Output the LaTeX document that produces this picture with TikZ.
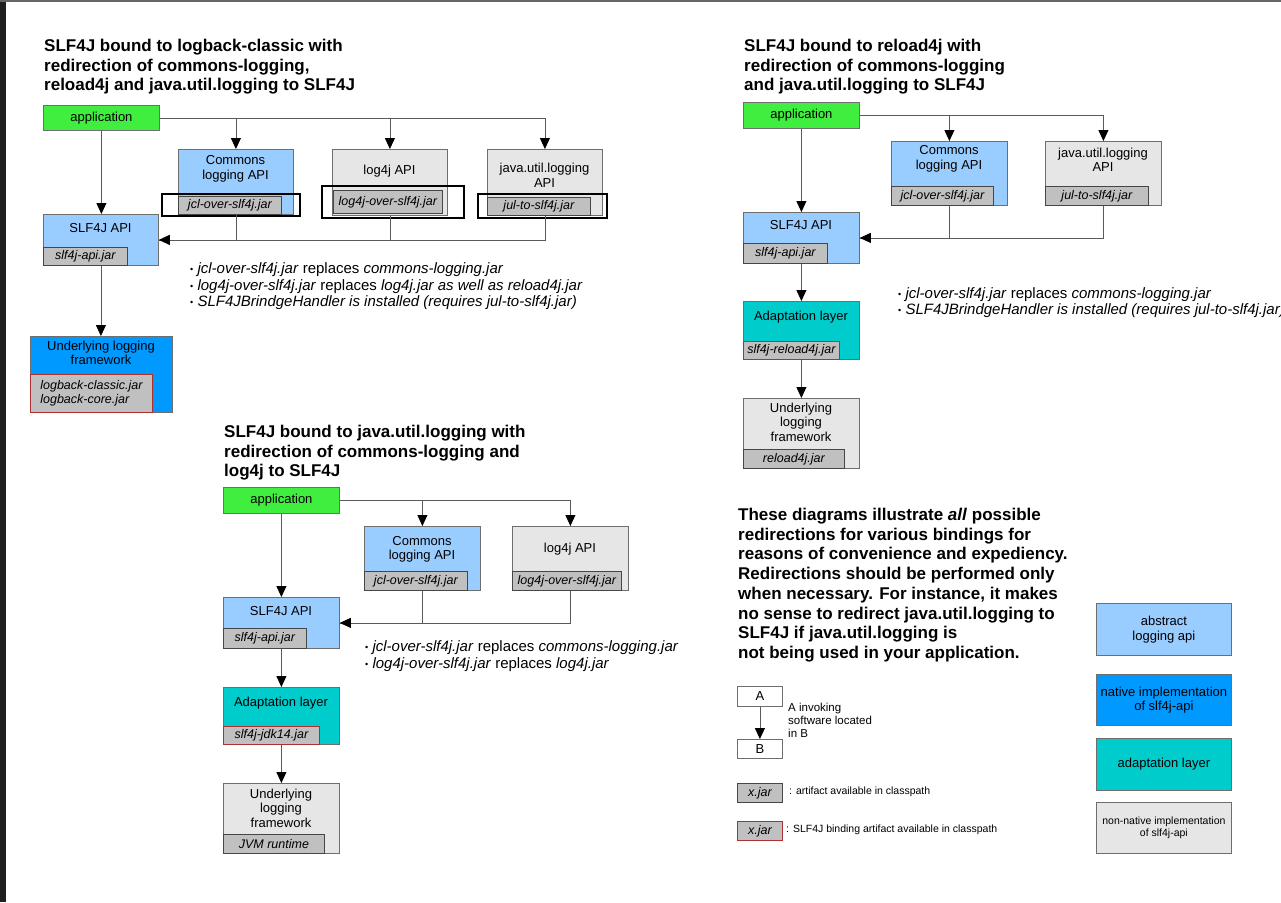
\documentclass[tikz,border=0pt]{standalone}
\usepackage{fontspec}
\setmainfont{Liberation Sans}
\usepackage{xcolor}
\usetikzlibrary{arrows.meta,positioning}

\definecolor{appgreen}{RGB}{64,238,64}
\definecolor{apiblue}{RGB}{153,204,255}
\definecolor{nativeblue}{RGB}{0,153,255}
\definecolor{adaptteal}{RGB}{0,204,204}
\definecolor{implgray}{RGB}{230,230,230}
\definecolor{jargray}{RGB}{192,192,192}
\definecolor{boxline}{RGB}{110,110,110}
\definecolor{jarline}{RGB}{70,70,70}
\definecolor{bindred}{RGB}{170,50,50}
\definecolor{linegray}{RGB}{90,90,90}

\newcommand{\bul}{\raisebox{1pt}{\fontsize{9}{9}\selectfont\textbullet}\ }

\begin{document}
\begin{tikzpicture}[x=1pt, y=-1pt,
    box/.style={draw=boxline, line width=0.8pt, anchor=north west, inner sep=0pt, align=center, font=\fontsize{13}{14.5}\selectfont},
    jar/.style={draw=jarline, fill=jargray, line width=0.8pt, anchor=south west, inner sep=0pt, align=left, font=\fontsize{12.5}{14}\selectfont\itshape},
    bindjar/.style={jar, draw=bindred},
    boxlabel/.style={align=center, inner sep=0pt, font=\fontsize{13}{14.5}\selectfont},
    heading/.style={anchor=north west, align=left, inner sep=0pt, font=\fontsize{17}{19.7}\selectfont\bfseries},
    notes/.style={anchor=west, align=left, inner sep=0pt, font=\fontsize{15}{16.5}\selectfont},
    small/.style={anchor=west, align=left, inner sep=0pt, font=\fontsize{10.5}{12}\selectfont},
    conn/.style={draw=linegray, line width=0.8pt},
    arr/.style={conn, -{Triangle[length=11pt, width=10pt, color=black]}},
    hilite/.style={draw=black, line width=2.5pt},
]
    \useasboundingbox (0,0) rectangle (1281,902);
    \fill[white] (0,0) rectangle (1281,902);
    \fill[black!88] (0,0) rectangle (6,902);
    \fill[black!60] (0,0) rectangle (1281,1.5);

    % logback-classic
    \node[heading] (title1) at (44,39) {SLF4J bound to logback-classic with\\redirection of commons-logging,\\reload4j and java.util.logging to SLF4J};
    \node[box, fill=appgreen, minimum width=116pt, minimum height=25pt] (app1) at (43,105) {application};

    \node[box, fill=apiblue, minimum width=115pt, minimum height=65pt] (cl1) at (178,149) {};
    \node[jar, minimum width=103pt, minimum height=18pt] (cl1jar) at (cl1.south west) {jcl-over-slf4j.jar};
    \node[boxlabel] (cl1txt) at (235.5,169) {Commons\\logging API};

    \node[box, fill=implgray, minimum width=115pt, minimum height=66pt] (log1) at (332,149) {};
    \node[jar, anchor=north west, minimum width=109pt, minimum height=23pt] (log1jar) at (333,190) {log4j-over-slf4j.jar};
    \node[boxlabel] (log1txt) at (389.5,171) {log4j API};

    \node[box, fill=implgray, minimum width=115pt, minimum height=66pt] (jul1) at (487,149) {};
    \node[jar, minimum width=103pt, minimum height=18pt] (jul1jar) at (jul1.south west) {jul-to-slf4j.jar};
    \node[boxlabel] (jul1txt) at (544.5,175.5) {java.util.logging\\API};

    \draw[hilite] (162,194) rectangle (300,216);
    \draw[hilite] (322,186) rectangle (464,218);
    \draw[hilite] (478,194) rectangle (607,218);

    \node[box, fill=apiblue, minimum width=115pt, minimum height=51pt] (slf1) at (43,214) {};
    \node[jar, minimum width=84pt, minimum height=18pt] (slf1jar) at (slf1.south west) {slf4j-api.jar};
    \node[boxlabel] (slf1txt) at (100.5,228) {SLF4J API};

    \node[box, fill=nativeblue, minimum width=142pt, minimum height=76pt] (under1) at (30,336) {};
    \node[bindjar, minimum width=122pt, minimum height=38pt] (under1jar) at (under1.south west) {logback-classic.jar\\logback-core.jar};
    \node[boxlabel] (under1txt) at (101,353) {Underlying logging\\framework};

    \draw[arr] (app1.south) -- (app1.south |- slf1.north);
    \draw[arr] (app1.east) -| (cl1.north);
    \draw[arr] (app1.east) -| (log1.north);
    \draw[arr] (app1.east) -| (jul1.north);
    \draw[conn] (cl1.south) |- (slf1.east);
    \draw[conn] (log1.south) |- (slf1.east);
    \draw[arr] (jul1.south) |- (slf1.east);
    \draw[arr] (slf1.south) -- (slf1.south |- under1.north);

    \node[notes] (notes1) at (190,286.5) {\bul\textit{jcl-over-slf4j.jar} replaces \textit{commons-logging.jar}\\
        \bul\textit{log4j-over-slf4j.jar} replaces \textit{log4j.jar as well as reload4j.jar}\\
        \bul\textit{SLF4JBrindgeHandler is installed (requires jul-to-slf4j.jar)}};

    % reload4j
    \node[heading] (title2) at (744,39) {SLF4J bound to reload4j with\\redirection of commons-logging\\and java.util.logging to SLF4J};
    \node[box, fill=appgreen, minimum width=116pt, minimum height=26pt] (app2) at (743,102) {application};

    \node[box, fill=apiblue, minimum width=116pt, minimum height=64pt] (cl2) at (891,141) {};
    \node[jar, minimum width=102pt, minimum height=19pt] (cl2jar) at (cl2.south west) {jcl-over-slf4j.jar};
    \node[boxlabel] (cl2txt) at (949,159) {Commons\\logging API};

    \node[box, fill=implgray, minimum width=116pt, minimum height=64pt] (jul2) at (1045,141) {};
    \node[jar, minimum width=103pt, minimum height=19pt] (jul2jar) at (jul2.south west) {jul-to-slf4j.jar};
    \node[boxlabel] (jul2txt) at (1103,160) {java.util.logging\\API};

    \node[box, fill=apiblue, minimum width=116pt, minimum height=51pt] (slf2) at (743,212) {};
    \node[jar, minimum width=84pt, minimum height=20pt] (slf2jar) at (slf2.south west) {slf4j-api.jar};
    \node[boxlabel] (slf2txt) at (801,225) {SLF4J API};

    \node[box, fill=adaptteal, minimum width=116pt, minimum height=58pt] (adapt2) at (743,301) {};
    \node[bindjar, minimum width=96pt, minimum height=18pt] (adapt2jar) at (adapt2.south west) {slf4j-reload4j.jar};
    \node[boxlabel] (adapt2txt) at (801,317) {Adaptation layer};

    \node[box, fill=implgray, minimum width=116pt, minimum height=70pt] (under2) at (743,398) {};
    \node[jar, minimum width=101pt, minimum height=19pt] (under2jar) at (under2.south west) {reload4j.jar};
    \node[boxlabel] (under2txt) at (801,422) {Underlying\\logging\\framework};

    \draw[arr] (app2.south) -- (app2.south |- slf2.north);
    \draw[arr] (app2.east) -| (cl2.north);
    \draw[arr] (app2.east) -| (jul2.north);
    \draw[conn] (cl2.south) |- (slf2.east);
    \draw[arr] (jul2.south) |- (slf2.east);
    \draw[arr] (slf2.south) -- (adapt2.north);
    \draw[arr] (adapt2.south) -- (under2.north);

    \node[notes] (notes2) at (898,302.5) {\bul\textit{jcl-over-slf4j.jar} replaces \textit{commons-logging.jar}\\
        \bul\textit{SLF4JBrindgeHandler is installed (requires jul-to-slf4j.jar)}};

    % java.util.logging
    \node[heading] (title3) at (224,425) {SLF4J bound to java.util.logging with\\redirection of commons-logging and\\log4j to SLF4J};
    \node[box, fill=appgreen, minimum width=116pt, minimum height=26pt] (app3) at (223,487) {application};

    \node[box, fill=apiblue, minimum width=116pt, minimum height=64pt] (cl3) at (364,526) {};
    \node[jar, minimum width=103pt, minimum height=19pt] (cl3jar) at (cl3.south west) {jcl-over-slf4j.jar};
    \node[boxlabel] (cl3txt) at (422,549.5) {Commons\\logging API};

    \node[box, fill=implgray, minimum width=116pt, minimum height=64pt] (log3) at (512,526) {};
    \node[jar, minimum width=109pt, minimum height=19pt] (log3jar) at (log3.south west) {log4j-over-slf4j.jar};
    \node[boxlabel] (log3txt) at (570,549) {log4j API};

    \node[box, fill=apiblue, minimum width=116pt, minimum height=51pt] (slf3) at (223,597) {};
    \node[jar, minimum width=83pt, minimum height=20pt] (slf3jar) at (slf3.south west) {slf4j-api.jar};
    \node[boxlabel] (slf3txt) at (281,611) {SLF4J API};

    \node[box, fill=adaptteal, minimum width=116pt, minimum height=57pt] (adapt3) at (223,687) {};
    \node[bindjar, minimum width=96pt, minimum height=18pt] (adapt3jar) at (adapt3.south west) {slf4j-jdk14.jar};
    \node[boxlabel] (adapt3txt) at (281,703) {Adaptation layer};

    \node[box, fill=implgray, minimum width=116pt, minimum height=70pt] (under3) at (223,783) {};
    \node[jar, minimum width=101pt, minimum height=19pt] (under3jar) at (under3.south west) {JVM runtime};
    \node[boxlabel] (under3txt) at (281,808) {Underlying\\logging\\framework};

    \draw[arr] (app3.south) -- (app3.south |- slf3.north);
    \draw[arr] (app3.east) -| (cl3.north);
    \draw[arr] (app3.east) -| (log3.north);
    \draw[conn] (cl3.south) |- (slf3.east);
    \draw[arr] (log3.south) |- (slf3.east);
    \draw[arr] (slf3.south) -- (adapt3.north);
    \draw[arr] (adapt3.south) -- (under3.north);

    \node[notes] (notes3) at (365,656) {\bul\textit{jcl-over-slf4j.jar} replaces \textit{commons-logging.jar}\\
        \bul\textit{log4j-over-slf4j.jar} replaces \textit{log4j.jar}};

    % legend
    \node[heading] (about) at (738,508) {These diagrams illustrate \textit{all} possible\\redirections for various bindings for\\reasons of convenience and expediency.\\Redirections should be performed only\\when necessary. For instance, it makes\\no sense to redirect java.util.logging to\\SLF4J if java.util.logging is\\not being used in your application.};

    \node[box, fill=white, minimum width=45pt, minimum height=20pt] (keya) at (737,686) {A};
    \node[box, fill=white, minimum width=45pt, minimum height=19pt] (keyb) at (737,739) {B};
    \draw[arr] (keya) -- (keyb);
    \node[small, font=\fontsize{11.5}{13}\selectfont] (keyatxt) at (788,720) {A invoking\\software located\\in B};

    \node[jar, anchor=north west, minimum width=45pt, minimum height=19pt] (keyjar) at (737,783) {x.jar};
    \node[small] (keyjartxt) at (789,792) {: artifact available in classpath};
    \node[bindjar, anchor=north west, minimum width=45pt, minimum height=19pt] (keybind) at (737,821) {x.jar};
    \node[small] (keybindtxt) at (786,830) {: SLF4J binding artifact available in classpath};

    \node[box, fill=apiblue, minimum width=135pt, minimum height=52pt] (keyapi) at (1096,603) {abstract\\logging api};
    \node[box, fill=nativeblue, minimum width=135pt, minimum height=51pt] (keynative) at (1096,674) {native implementation\\of slf4j-api};
    \node[box, fill=adaptteal, minimum width=135pt, minimum height=52pt] (keyadapt) at (1096,738) {adaptation layer};
    \node[box, fill=implgray, minimum width=135pt, minimum height=51pt, font=\fontsize{10.5}{12.5}\selectfont] (keyimpl) at (1096,802) {non-native implementation\\of slf4j-api};
\end{tikzpicture}
\end{document}
